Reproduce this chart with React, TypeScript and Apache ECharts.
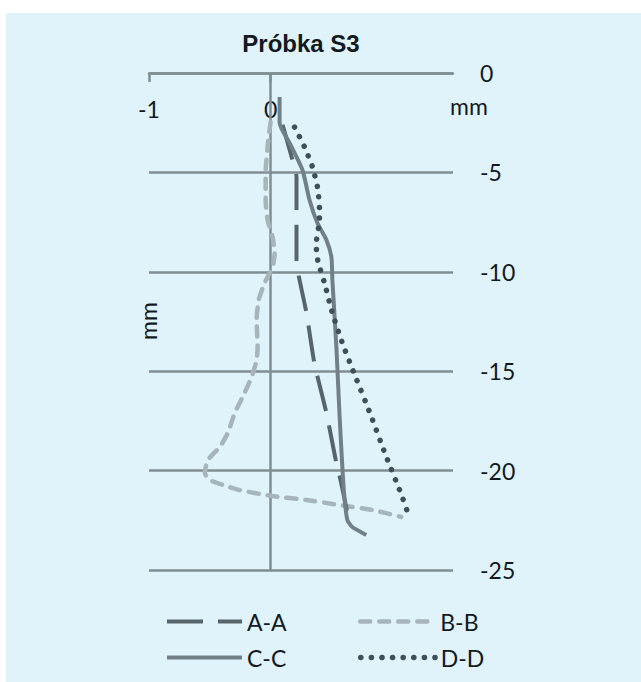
import React, { useEffect, useRef } from "react";
import * as echarts from "echarts";

const titleText = "Próbka S3";
const axisUnit = "mm";
const xTicks = [-1, 0, 1];
const yMin = -25;
const yMax = 0;
const yStep = 5;
const xMin = -1;
const xMax = 1.5;

const seriesNames = ["A-A", "B-B", "C-C", "D-D"];

const dataAA: number[][] = [
  [0.098, -2.6], [0.18, -4.38], [0.213, -5.23], [0.213, -7.39], [0.213, -9.56],
  [0.238, -10.41], [0.295, -12.07], [0.36, -14.59], [0.459, -17.1], [0.541, -19.62],
  [0.58, -20.6], [0.63, -22.1],
];

const dataBB: number[][] = [
  [0.0, -2.46], [-0.025, -3.72], [-0.041, -5.03], [-0.041, -6.39], [-0.025, -7.39],
  [0.016, -8.25], [0.033, -9.05], [0.016, -9.76], [-0.049, -10.56], [-0.098, -11.42],
  [-0.115, -12.42], [-0.107, -13.78], [-0.115, -14.44], [-0.156, -15.29], [-0.23, -16.3],
  [-0.295, -17.1], [-0.352, -18.11], [-0.418, -18.81], [-0.516, -19.47], [-0.541, -20.12],
  [-0.5, -20.47], [-0.393, -20.72], [-0.254, -20.98], [0.016, -21.28], [0.295, -21.48],
  [0.566, -21.73], [0.836, -21.98], [1.074, -22.33],
];

const dataCC: number[][] = [
  [0.074, -1.21], [0.074, -2.52], [0.156, -3.52], [0.262, -4.88], [0.32, -6.39],
  [0.385, -7.55], [0.459, -8.4], [0.5, -9.26], [0.508, -10.41], [0.541, -13.78],
  [0.566, -17.1], [0.59, -19.82], [0.607, -21.33], [0.631, -22.48], [0.672, -22.84],
  [0.787, -23.24],
];

const dataDD: number[][] = [
  [0.197, -2.72], [0.279, -3.72], [0.344, -4.73], [0.385, -5.73], [0.402, -6.79],
  [0.402, -7.39], [0.377, -8.5], [0.377, -9.0], [0.393, -9.56], [0.443, -10.56],
  [0.508, -12.07], [0.59, -13.58], [0.689, -15.14], [0.82, -17.15], [0.943, -19.17],
  [1.074, -21.18], [1.131, -22.18],
];

const FONT = "Lato, 'Open Sans', sans-serif";
const AXIS_COLOR = "#7f8e93";
const TEXT_COLOR = "#121a1e";

const styleAA = { color: "#56656b", width: 4, type: [36, 15], cap: "butt" };
const styleBB = { color: "#a5b5bb", width: 4.5, type: [10, 9], cap: "round" };
const styleCC = { color: "#718087", width: 4, type: "solid", cap: "butt" };
const styleDD = { color: "#3f4f56", width: 5.5, type: [0.1, 10.5], cap: "round" };

export default function App() {
  const ref = useRef<HTMLDivElement>(null);

  useEffect(() => {
    if (!ref.current) return;
    const chart = echarts.init(ref.current, undefined, { renderer: "svg" });

    const legendItem = (name: string, left: number, top: number, ls: any) => ({
      data: [name],
      left,
      top,
      itemWidth: 75,
      itemHeight: 14,
      padding: 0,
      itemStyle: { opacity: 0, borderWidth: 0 },
      lineStyle: { ...ls },
      textStyle: { fontFamily: FONT, fontSize: 23, color: TEXT_COLOR },
    });

    chart.setOption({
      animation: false,
      title: {
        text: titleText,
        left: 301,
        top: 31,
        textAlign: "center",
        padding: 0,
        textStyle: {
          fontFamily: "'Liberation Sans', Arial, sans-serif",
          fontWeight: "bold",
          fontSize: 24,
          color: TEXT_COLOR,
        },
      },
      grid: { left: 149, top: 73, width: 304, height: 497, containLabel: false },
      xAxis: {
        type: "value",
        position: "top",
        min: xMin,
        max: xMax,
        interval: 1,
        axisLine: { show: true, onZero: false, lineStyle: { color: AXIS_COLOR, width: 2.5 } },
        axisTick: {
          show: true,
          inside: true,
          length: 9,
          customValues: xTicks,
          lineStyle: { color: AXIS_COLOR, width: 2.5 },
        },
        axisLabel: {
          inside: true,
          margin: 36,
          verticalAlign: "middle",
          customValues: xTicks,
          showMaxLabel: false,
          fontFamily: FONT,
          fontSize: 23,
          color: TEXT_COLOR,
        },
        splitLine: { show: false },
      },
      yAxis: {
        type: "value",
        position: "right",
        min: yMin,
        max: yMax,
        interval: yStep,
        axisLine: { show: false },
        axisTick: { show: false },
        axisLabel: {
          margin: 27,
          align: "left",
          fontFamily: FONT,
          fontSize: 23,
          color: TEXT_COLOR,
        },
        splitLine: { show: true, lineStyle: { color: AXIS_COLOR, width: 2.5 } },
      },
      legend: [
        legendItem(seriesNames[0], 165, 610, styleAA),
        legendItem(seriesNames[1], 358, 610, styleBB),
        legendItem(seriesNames[2], 165, 646, styleCC),
        legendItem(seriesNames[3], 358, 646, styleDD),
      ],
      graphic: [
        {
          type: "text",
          x: 450,
          y: 106,
          style: {
            text: axisUnit,
            fontFamily: FONT,
            fontSize: 23,
            fill: TEXT_COLOR,
            textAlign: "left",
            textVerticalAlign: "middle",
          },
        },
        {
          type: "text",
          x: 148,
          y: 321,
          rotation: Math.PI / 2,
          style: {
            text: axisUnit,
            fontFamily: FONT,
            fontSize: 23,
            fill: TEXT_COLOR,
            textAlign: "center",
            textVerticalAlign: "middle",
          },
        },
      ],
      series: [
        {
          name: seriesNames[1],
          type: "line",
          data: dataBB,
          symbol: "none",
          smooth: 0.2,
          z: 2,
          lineStyle: styleBB,
          itemStyle: { color: styleBB.color },
          markLine: {
            silent: true,
            symbol: "none",
            label: { show: false },
            lineStyle: { color: AXIS_COLOR, width: 2.5, type: "solid" },
            data: [{ xAxis: 0 }],
            z: 1,
          },
        },
        {
          name: seriesNames[0],
          type: "line",
          data: dataAA,
          symbol: "none",
          smooth: 0.2,
          z: 3,
          lineStyle: styleAA,
          itemStyle: { color: styleAA.color },
        },
        {
          name: seriesNames[2],
          type: "line",
          data: dataCC,
          symbol: "none",
          smooth: 0.2,
          z: 4,
          lineStyle: styleCC,
          itemStyle: { color: styleCC.color },
        },
        {
          name: seriesNames[3],
          type: "line",
          data: dataDD,
          symbol: "none",
          smooth: 0.2,
          z: 5,
          lineStyle: styleDD,
          itemStyle: { color: styleDD.color },
        },
      ],
    });

    return () => chart.dispose();
  }, []);

  return (
    <div style={{ position: "fixed", left: 0, top: 0, width: 641, height: 682, background: "#ffffff" }}>
      <div
        style={{ position: "absolute", left: 6, top: 13, width: 635, height: 669, background: "#e0f3fb" }}
      />
      <div ref={ref} style={{ position: "absolute", left: 0, top: 0, width: 641, height: 682 }} />
    </div>
  );
}
